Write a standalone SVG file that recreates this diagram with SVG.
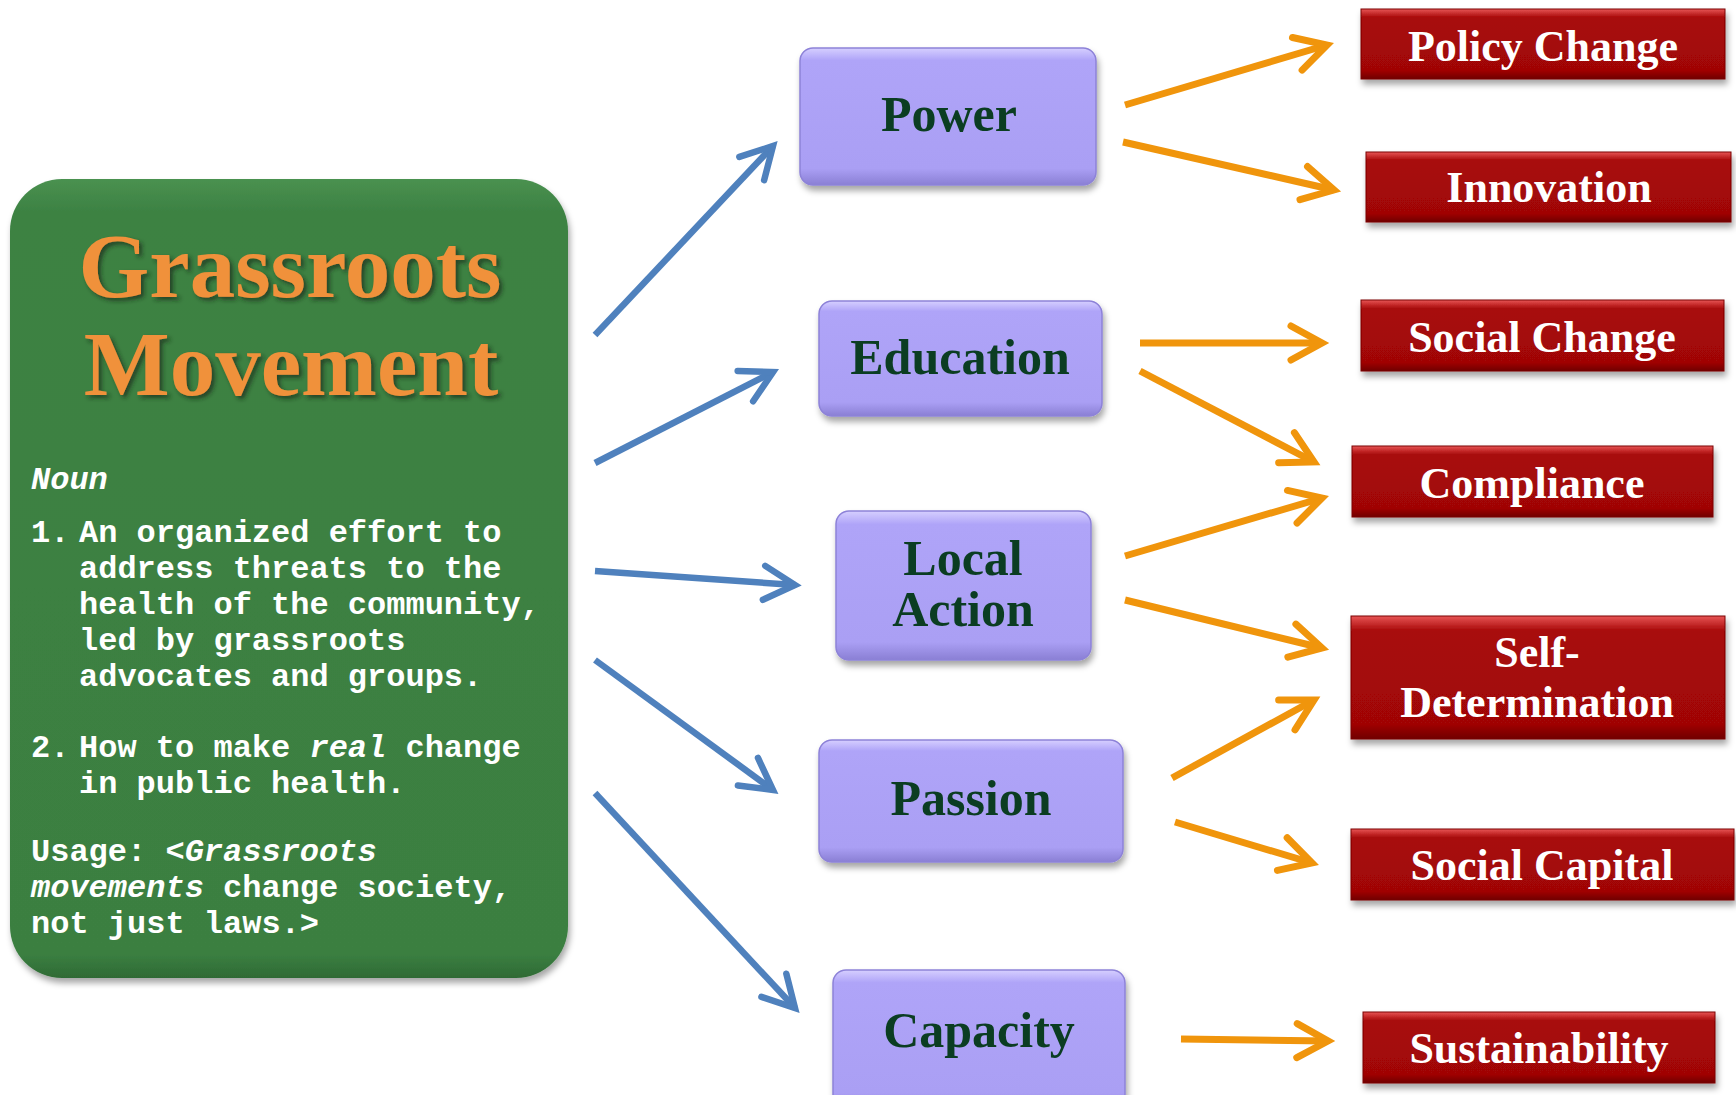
<svg xmlns="http://www.w3.org/2000/svg" width="1736" height="1095" viewBox="0 0 1736 1095">
<style>
.mono{font-family:"Liberation Mono","Courier New",monospace;font-weight:bold;font-size:32px;fill:#ffffff}
.it{font-style:italic}
.title{font-family:"Liberation Serif","Times New Roman",serif;font-weight:bold;font-size:91px;fill:#F0913A;text-anchor:middle}
.pt{font-family:"Liberation Serif","Times New Roman",serif;font-weight:bold;font-size:50px;fill:#0B3D22;text-anchor:middle}
.rt{font-family:"Liberation Serif","Times New Roman",serif;font-weight:bold;font-size:44px;fill:#ffffff;text-anchor:middle}
.pbox{fill:url(#pg);stroke:#8D82D8;stroke-width:1.5;filter:url(#sh)}
.rbox{fill:url(#rg);stroke:#7A0404;stroke-width:1;filter:url(#sh)}
.blue{stroke:#4F81BD;stroke-width:6.5;fill:none;marker-end:url(#mb)}
.orange{stroke:#F0950C;stroke-width:7;fill:none;marker-end:url(#mo)}
</style>
<defs>
<linearGradient id="pg" x1="0" y1="0" x2="0" y2="1">
<stop offset="0" stop-color="#D6CFFF"/>
<stop offset="0.09" stop-color="#AFA4F8"/>
<stop offset="0.88" stop-color="#AA9FF4"/>
<stop offset="1" stop-color="#8A7FD4"/>
</linearGradient>
<linearGradient id="rg" x1="0" y1="0" x2="0" y2="1">
<stop offset="0" stop-color="#E85555"/>
<stop offset="0.12" stop-color="#A80909"/>
<stop offset="0.88" stop-color="#A00606"/>
<stop offset="1" stop-color="#700303"/>
</linearGradient>
<linearGradient id="gg" x1="0" y1="0" x2="0" y2="1">
<stop offset="0" stop-color="#4A9150"/>
<stop offset="0.04" stop-color="#3D8243"/>
<stop offset="0.97" stop-color="#3B7F41"/>
<stop offset="1" stop-color="#2F6A35"/>
</linearGradient>
<filter id="sh" x="-10%" y="-10%" width="120%" height="130%">
<feDropShadow dx="2" dy="5" stdDeviation="3" flood-color="#000" flood-opacity="0.35"/>
</filter>
<filter id="ts" x="-5%" y="-5%" width="110%" height="120%">
<feDropShadow dx="3" dy="3" stdDeviation="2" flood-color="#1a2a1a" flood-opacity="0.7"/>
</filter>
<marker id="mb" markerUnits="userSpaceOnUse" orient="auto" refX="0" refY="0" markerWidth="80" markerHeight="80" overflow="visible">
<path d="M-31,-17 L0,0 L-31,17" fill="none" stroke="#4F81BD" stroke-width="6.5" stroke-linecap="round" stroke-linejoin="miter"/>
</marker>
<marker id="mo" markerUnits="userSpaceOnUse" orient="auto" refX="0" refY="0" markerWidth="80" markerHeight="80" overflow="visible">
<path d="M-31,-17 L0,0 L-31,17" fill="none" stroke="#F0950C" stroke-width="7" stroke-linecap="round" stroke-linejoin="miter"/>
</marker>
</defs>
<rect width="1736" height="1095" fill="#ffffff"/>

<g id="connectors">
<line class="blue" x1="595" y1="335" x2="773" y2="146"/>
<line class="blue" x1="595" y1="463" x2="773" y2="372"/>
<line class="blue" x1="595" y1="571" x2="795" y2="585"/>
<line class="blue" x1="595" y1="660" x2="773" y2="790"/>
<line class="blue" x1="595" y1="793" x2="795" y2="1008"/>
<line class="orange" x1="1125" y1="105" x2="1327" y2="45"/>
<line class="orange" x1="1123" y1="142" x2="1334" y2="190"/>
<line class="orange" x1="1140" y1="343" x2="1322" y2="343"/>
<line class="orange" x1="1140" y1="371" x2="1314" y2="462"/>
<line class="orange" x1="1125" y1="556" x2="1322" y2="498"/>
<line class="orange" x1="1125" y1="600" x2="1322" y2="648"/>
<line class="orange" x1="1172" y1="778" x2="1314" y2="700"/>
<line class="orange" x1="1175" y1="822" x2="1312" y2="863"/>
<line class="orange" x1="1181" y1="1039" x2="1328" y2="1041"/>
</g>

<g id="grassroots">
<rect x="10" y="179" width="558" height="799" rx="52" fill="url(#gg)" filter="url(#sh)"/>
<g filter="url(#ts)">
<text class="title" x="290" y="297">Grassroots</text>
<text class="title" x="291" y="395">Movement</text>
</g>
<text class="mono it" x="31" y="489">Noun</text>
<text class="mono" x="31" y="542">1.</text>
<text class="mono" x="79" y="542">An organized effort to</text>
<text class="mono" x="79" y="578">address threats to the</text>
<text class="mono" x="79" y="614">health of the community,</text>
<text class="mono" x="79" y="650">led by grassroots</text>
<text class="mono" x="79" y="686">advocates and groups.</text>
<text class="mono" x="31" y="757">2.</text>
<text class="mono" x="79" y="757">How to make <tspan class="it">real</tspan> change</text>
<text class="mono" x="79" y="793">in public health.</text>
<text class="mono" x="31" y="861">Usage: &lt;<tspan class="it">Grassroots</tspan></text>
<text class="mono" x="31" y="897"><tspan class="it">movements</tspan> change society,</text>
<text class="mono" x="31" y="933">not just laws.&gt;</text>
</g>

<g id="power">
<rect class="pbox" x="800" y="48" width="296" height="137" rx="13"/>
<text class="pt" x="949" y="131">Power</text>
</g>
<g id="education">
<rect class="pbox" x="819" y="301" width="283" height="115" rx="13"/>
<text class="pt" x="960" y="374">Education</text>
</g>
<g id="local-action">
<rect class="pbox" x="836" y="511" width="255" height="149" rx="13"/>
<text class="pt" x="963" y="575">Local</text>
<text class="pt" x="963" y="626">Action</text>
</g>
<g id="passion">
<rect class="pbox" x="819" y="740" width="304" height="122" rx="13"/>
<text class="pt" x="971" y="815">Passion</text>
</g>
<g id="capacity">
<rect class="pbox" x="833" y="970" width="292" height="140" rx="13"/>
<text class="pt" x="979" y="1047">Capacity</text>
</g>

<g id="policy-change">
<rect class="rbox" x="1361" y="9" width="364" height="70"/>
<text class="rt" x="1543" y="61">Policy Change</text>
</g>
<g id="innovation">
<rect class="rbox" x="1366" y="152" width="365" height="70"/>
<text class="rt" x="1549" y="202">Innovation</text>
</g>
<g id="social-change">
<rect class="rbox" x="1361" y="300" width="363" height="71"/>
<text class="rt" x="1542" y="352">Social Change</text>
</g>
<g id="compliance">
<rect class="rbox" x="1352" y="446" width="361" height="71"/>
<text class="rt" x="1532" y="498">Compliance</text>
</g>
<g id="self-determination">
<rect class="rbox" x="1351" y="616" width="374" height="123"/>
<text class="rt" x="1537" y="667">Self-</text>
<text class="rt" x="1537" y="717">Determination</text>
</g>
<g id="social-capital">
<rect class="rbox" x="1351" y="829" width="383" height="71"/>
<text class="rt" x="1542" y="880">Social Capital</text>
</g>
<g id="sustainability">
<rect class="rbox" x="1363" y="1012" width="352" height="71"/>
<text class="rt" x="1539" y="1063">Sustainability</text>
</g>
</svg>
